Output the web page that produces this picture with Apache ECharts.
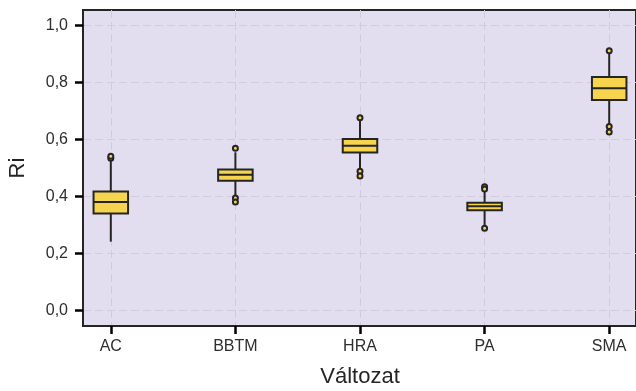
<!DOCTYPE html>
<html lang="hu">
<head>
    <meta charset="UTF-8">
    <title>Ri - Változat</title>
    <style>
        html, body { margin: 0; padding: 0; background: #fff; }
        #main { width: 636px; height: 391px; }
    </style>
</head>
<body>
<div id="main"></div>
<script src="https://cdn.jsdelivr.net/npm/echarts@6/dist/echarts.min.js"></script>
<script type="text/javascript">
  // adatok
  var categories = ['AC', 'BBTM', 'HRA', 'PA', 'SMA'];
  var whiskerLow = [0.242, 0.400, 0.492, 0.300, 0.650];
  var q1 = [0.341, 0.455, 0.554, 0.352, 0.738];
  var median = [0.381, 0.476, 0.578, 0.366, 0.779];
  var q3 = [0.418, 0.495, 0.602, 0.378, 0.819];
  var whiskerHigh = [0.530, 0.555, 0.665, 0.420, 0.905];
  var outliers = [
    [0.534, 0.541],
    [0.569, 0.395, 0.381],
    [0.676, 0.489, 0.472],
    [0.434, 0.426, 0.289],
    [0.911, 0.645, 0.626]
  ];

  var font = 'Liberation Sans, Arial, sans-serif';
  var ink = '#252525';
  var fill = '#f6d44e';

  var boxData = categories.map(function (c, i) {
    return [i + 1, whiskerLow[i], q1[i], median[i], q3[i], whiskerHigh[i]];
  });
  var pointData = [];
  outliers.forEach(function (list, i) {
    list.forEach(function (v) { pointData.push([i + 1, v]); });
  });

  var myChart = echarts.init(document.getElementById('main'));
  var option = {
    animation: false,
    backgroundColor: '#ffffff',
    textStyle: { fontFamily: font },
    grid: [
      // keret + háttér
      { left: 83, top: 10, width: 553, height: 316, show: true, backgroundColor: '#e2deef',
        borderColor: ink, borderWidth: 2, outerBoundsMode: 'none', containLabel: false },
      // y tengely 0..1
      { left: 83, top: 25.3, width: 553, height: 285.4, outerBoundsMode: 'none', containLabel: false },
      // adatok
      { left: 110.8, top: 10, width: 498.4, height: 316, outerBoundsMode: 'none', containLabel: false }
    ],
    xAxis: [
      { gridIndex: 0, type: 'value', show: false },
      { gridIndex: 1, type: 'value', show: false, min: 0, max: 1 },
      {
        gridIndex: 2, type: 'value', position: 'bottom', min: 1, max: 5, interval: 1,
        name: 'Változat', nameLocation: 'middle', nameGap: 40,
        nameTextStyle: { fontSize: 22, color: ink, fontFamily: font },
        axisLine: { show: true, onZero: false, lineStyle: { color: ink, width: 2 } },
        axisTick: { show: true, inside: false, length: 8, lineStyle: { color: '#000000', width: 2.5 } },
        axisLabel: {
          margin: 13, fontSize: 16, color: '#2e2e2e', fontFamily: font,
          formatter: function (v) { return categories[Math.round(v) - 1] || ''; }
        },
        splitLine: { show: true, lineStyle: { color: '#d0cbdf', width: 1, type: [8, 4] } }
      }
    ],
    yAxis: [
      { gridIndex: 0, type: 'value', show: false },
      {
        gridIndex: 1, type: 'value', position: 'left', min: 0, max: 1, interval: 0.2,
        name: 'Ri', nameLocation: 'middle', nameGap: 54, nameRotate: 90,
        nameTextStyle: { fontSize: 22, color: ink, fontFamily: font },
        axisLine: { show: true, onZero: false, lineStyle: { color: ink, width: 2 } },
        axisTick: { show: true, inside: false, length: 8, lineStyle: { color: '#000000', width: 2.5 } },
        axisLabel: {
          margin: 15, fontSize: 16, color: '#2e2e2e', fontFamily: font,
          formatter: function (v) { return v.toFixed(1).replace('.', ','); }
        },
        splitLine: { show: true, lineStyle: { color: '#d0cbdf', width: 1, type: [8, 4] } }
      },
      { gridIndex: 2, type: 'value', show: false, min: -0.0536, max: 1.0536 }
    ],
    series: [
      {
        type: 'custom',
        xAxisIndex: 2,
        yAxisIndex: 2,
        data: boxData,
        encode: { x: 0, y: [1, 2, 3, 4, 5] },
        z: 3,
        renderItem: function (params, api) {
          var x = api.value(0);
          var lo = api.coord([x, api.value(1)]);
          var b1 = api.coord([x, api.value(2)]);
          var md = api.coord([x, api.value(3)]);
          var b3 = api.coord([x, api.value(4)]);
          var hi = api.coord([x, api.value(5)]);
          var w = api.size([0.277, 0])[0];
          var line = { stroke: ink, lineWidth: 2 };
          return {
            type: 'group',
            children: [
              { type: 'line', shape: { x1: lo[0], y1: lo[1], x2: b1[0], y2: b1[1] }, style: line },
              { type: 'line', shape: { x1: b3[0], y1: b3[1], x2: hi[0], y2: hi[1] }, style: line },
              { type: 'rect', shape: { x: b3[0] - w / 2, y: b3[1], width: w, height: b1[1] - b3[1] },
                style: { fill: fill, stroke: ink, lineWidth: 2 } },
              { type: 'line', shape: { x1: md[0] - w / 2, y1: md[1], x2: md[0] + w / 2, y2: md[1] }, style: line }
            ]
          };
        }
      },
      {
        type: 'scatter',
        xAxisIndex: 2,
        yAxisIndex: 2,
        data: pointData,
        symbolSize: 5,
        z: 4,
        itemStyle: { color: fill, borderColor: ink, borderWidth: 2, opacity: 1 }
      }
    ]
  };
  myChart.setOption(option);

  window.addEventListener('resize', function () {
    myChart.resize();
  });
</script>
</body>
</html>
